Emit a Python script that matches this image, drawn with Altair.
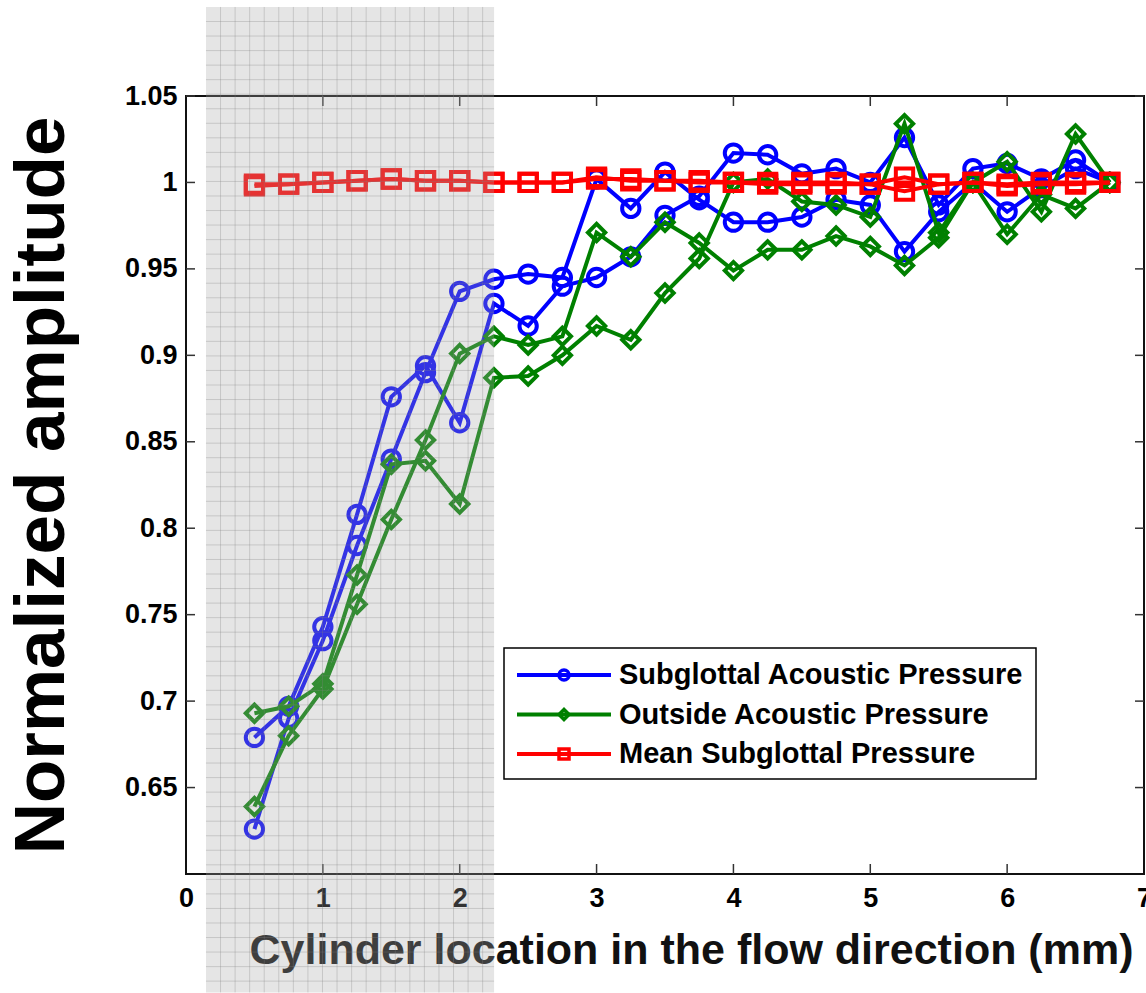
import altair as alt
import pandas as pd
import numpy as np

# ---------------- data ----------------
X = [0.5, 0.75, 1.0, 1.25, 1.5, 1.75, 2.0, 2.25, 2.5, 2.75, 3.0, 3.25, 3.5,
     3.75, 4.0, 4.25, 4.5, 4.75, 5.0, 5.25, 5.5, 5.75, 6.0, 6.25, 6.5, 6.75]

BLUE_A = [0.626, 0.690, 0.735, 0.790, 0.840, 0.890, 0.937, 0.944, 0.947, 0.945,
          1.002, 0.985, 1.006, 0.990, 0.977, 0.977, 0.980, 0.990, 0.987, 0.960,
          0.983, 1.000, 0.983, 0.997, 1.008, 1.000]
BLUE_B = [0.679, 0.697, 0.743, 0.808, 0.876, 0.894, 0.861, 0.930, 0.917, 0.940,
          0.945, 0.957, 0.981, 0.992, 1.017, 1.016, 1.005, 1.008, 1.000, 1.026,
          0.987, 1.008, 1.011, 1.002, 1.013, 1.000]
GREEN_A = [0.639, 0.680, 0.707, 0.756, 0.805, 0.851, 0.901, 0.911, 0.906, 0.911,
           0.971, 0.957, 0.977, 0.965, 0.949, 0.961, 0.961, 0.969, 0.963, 0.952,
           0.968, 1.000, 0.970, 0.993, 0.985, 1.000]
GREEN_B = [0.693, 0.697, 0.710, 0.773, 0.837, 0.839, 0.814, 0.887, 0.888, 0.900,
           0.917, 0.909, 0.936, 0.956, 1.000, 1.002, 0.989, 0.987, 0.980, 1.034,
           0.971, 1.000, 1.012, 0.983, 1.028, 1.000]
RED_A = [0.998, 0.999, 1.000, 1.001, 1.002, 1.001, 1.001, 1.000, 1.000, 1.000,
         1.002, 1.002, 1.001, 1.001, 1.000, 1.000, 1.000, 1.000, 0.999, 1.003,
         0.999, 1.000, 0.999, 1.000, 1.000, 1.000]
RED_B = [0.999, 0.999, 1.000, 1.001, 1.002, 1.001, 1.001, 1.000, 1.000, 1.000,
         1.003, 1.001, 1.001, 1.000, 1.000, 0.999, 0.999, 0.999, 0.999, 0.995,
         0.999, 1.000, 0.998, 0.999, 0.999, 1.000]

SERIES = ["Subglottal Acoustic Pressure", "Outside Acoustic Pressure",
          "Mean Subglottal Pressure"]
COLORS = ["#0000ff", "#008000", "#ff0000"]
SHAPES = ["circle", "diamond", "square"]

X_TICKS = [0, 1, 2, 3, 4, 5, 6, 7]
Y_TICKS = [0.65, 0.7, 0.75, 0.8, 0.85, 0.9, 0.95, 1.0, 1.05]

# shaded (highlighted) region, in data units
SHADE_X = [0.146, 2.251]
SHADE_Y = [0.5315, 1.1015]

FONT = "Liberation Sans"
W, H = 958, 778

# ---------------- tables ----------------
series_values = [(BLUE_A, BLUE_B), (GREEN_A, GREEN_B), (RED_A, RED_B)]
frames = {}
for name, (a, b) in zip(SERIES, series_values):
    rows = []
    for tr, vals in (("a", a), ("b", b)):
        for xv, yv in zip(X, vals):
            rows.append({"x": xv, "y": yv, "trace": tr})
    frames[name] = pd.DataFrame(rows)

x_enc = alt.X(
    "x:Q",
    scale=alt.Scale(domain=[0, 7], nice=False, zero=False),
    axis=alt.Axis(
        values=X_TICKS, format="d", ticks=False, domain=False, grid=False,
        labelFont=FONT, labelFontSize=27, labelFontWeight="bold",
        labelColor="black", labelPadding=11, labelFlush=False,
        labelOverlap=False,
        title="Cylinder location in the flow direction (mm)",
        titleFont=FONT, titleFontSize=43, titleFontWeight="bold",
        titleColor="#111111", titleX=505, titleY=89,
        titleAlign="center", titleBaseline="alphabetic",
    ),
)
y_enc = alt.Y(
    "y:Q",
    scale=alt.Scale(domain=[0.6, 1.05], nice=False, zero=False),
    axis=alt.Axis(
        values=Y_TICKS, format="~g", ticks=False, domain=False, grid=False,
        labelFont=FONT, labelFontSize=27, labelFontWeight="bold",
        labelColor="black", labelPadding=9, labelFlush=False,
        labelOverlap=False,
        title="Normalized amplitude",
        titleFont=FONT, titleFontSize=71, titleFontWeight="bold",
        titleColor="black", titleX=-123, titleY=389, titleAngle=270,
        titleAlign="center", titleBaseline="alphabetic",
    ),
)

layers = []

# manual inward ticks
xt = pd.DataFrame({"x": X_TICKS[1:-1]})
yt = pd.DataFrame({"y": Y_TICKS})
tick_style = dict(color="#333333", strokeWidth=1.5)
layers.append(alt.Chart(xt).mark_rule(**tick_style).encode(
    x=x_enc, y=alt.value(H), y2=alt.value(H - 10)))
layers.append(alt.Chart(xt).mark_rule(**tick_style).encode(
    x=x_enc, y=alt.value(0), y2=alt.value(10)))
layers.append(alt.Chart(yt).mark_rule(**tick_style).encode(
    y=y_enc, x=alt.value(0), x2=alt.value(9)))
layers.append(alt.Chart(yt).mark_rule(**tick_style).encode(
    y=y_enc, x=alt.value(W), x2=alt.value(W - 9)))

# series
for name, color, shape in zip(SERIES, COLORS, SHAPES):
    df = frames[name]
    layers.append(alt.Chart(df).mark_line(color=color, strokeWidth=4).encode(
        x=x_enc, y=y_enc, detail="trace:N", order="x:Q"))
    layers.append(alt.Chart(df).mark_point(
        shape=shape, color=color, filled=False, strokeWidth=4, size=300,
        opacity=1).encode(x=x_enc, y=y_enc))

# shaded overlay with fine grid
shade = pd.DataFrame({"x": [SHADE_X[0]], "x2": [SHADE_X[1]],
                      "y": [SHADE_Y[0]], "y2": [SHADE_Y[1]]})
layers.append(alt.Chart(shade).mark_rect(color="#aaaaaa", opacity=0.3).encode(
    x=x_enc, x2="x2:Q", y=y_enc, y2="y2:Q"))
dx = 0.1064
dy = 0.00841
vx = np.arange(SHADE_X[0] + dx, SHADE_X[1] - 0.02, dx)
hy = np.arange(SHADE_Y[1] - dy, SHADE_Y[0] + 0.002, -dy)
vgrid = pd.DataFrame({"x": vx, "y": SHADE_Y[0], "y2": SHADE_Y[1]})
hgrid = pd.DataFrame({"y": hy, "x": SHADE_X[0], "x2": SHADE_X[1]})
layers.append(alt.Chart(vgrid).mark_rule(color="#808080", opacity=0.3, strokeWidth=1).encode(
    x=x_enc, y=y_enc, y2="y2:Q"))
layers.append(alt.Chart(hgrid).mark_rule(color="#808080", opacity=0.3, strokeWidth=1).encode(
    y=y_enc, x=x_enc, x2="x2:Q"))

# manual legend (pixel positions inside the plot area)
leg = pd.DataFrame({
    "label": SERIES, "color": COLORS, "shape": SHAPES,
    "ly": [579, 618.5, 658],
    "lx1": [331] * 3, "lx2": [425] * 3, "mx": [378] * 3, "tx": [433] * 3,
})
box = pd.DataFrame({"bx": [318], "bx2": [850], "by": [552], "by2": [683]})
layers.append(alt.Chart(box).mark_rect(fill="white", stroke="black", strokeWidth=1.5).encode(
    x=alt.X("bx:Q", scale=None), x2="bx2:Q", y=alt.Y("by:Q", scale=None), y2="by2:Q"))
layers.append(alt.Chart(leg).mark_rule(strokeWidth=4).encode(
    x=alt.X("lx1:Q", scale=None), x2="lx2:Q", y=alt.Y("ly:Q", scale=None),
    color=alt.Color("color:N", scale=None)))
layers.append(alt.Chart(leg).mark_point(filled=False, strokeWidth=3.5, size=100, opacity=1).encode(
    x=alt.X("mx:Q", scale=None), y=alt.Y("ly:Q", scale=None),
    color=alt.Color("color:N", scale=None), shape=alt.Shape("shape:N", scale=None)))
layers.append(alt.Chart(leg).mark_text(
    align="left", baseline="middle", font=FONT, fontSize=29, fontWeight="bold",
    color="black").encode(
    x=alt.X("tx:Q", scale=None), y=alt.Y("ly:Q", scale=None), text="label:N"))

chart = alt.layer(*layers).properties(
    width=W, height=H,
    autosize=alt.AutoSizeParams(type="none"),
    padding={"left": 186, "top": 96, "right": 2, "bottom": 119},
    background="white",
).configure_view(stroke="#111111", strokeWidth=2)

chart.save("out.html", embed_options={"renderer": "svg", "actions": False})
